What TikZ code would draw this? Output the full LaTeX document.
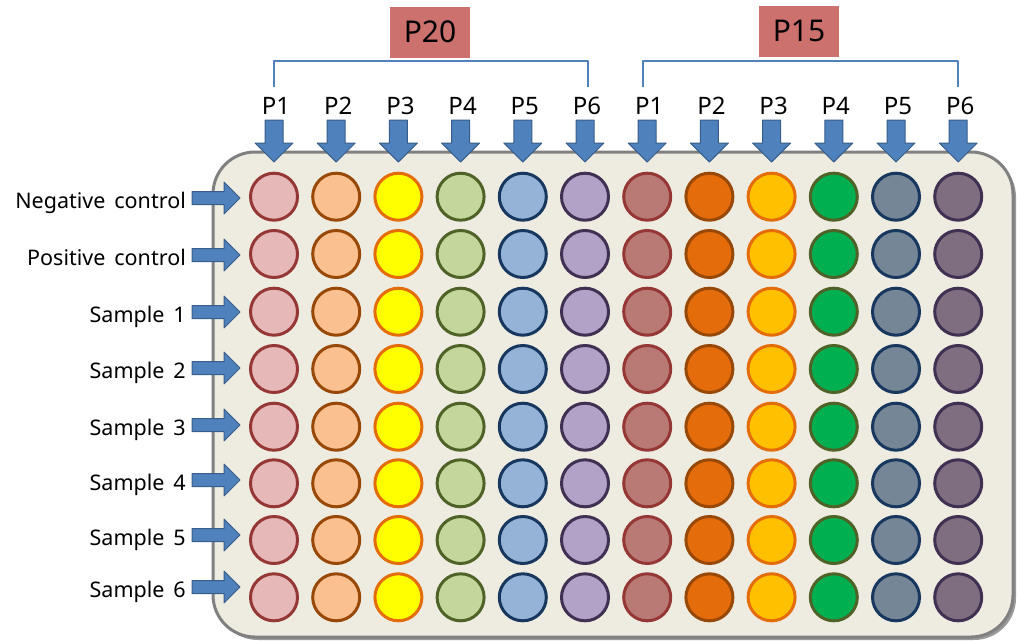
\documentclass[tikz,border=0pt]{standalone}
\usepackage{fontspec}
\setmainfont{Noto Sans}
\definecolor{plate}{RGB}{238,236,225}
\definecolor{plateedge}{RGB}{128,128,128}
\definecolor{arrowblue}{RGB}{79,129,189}
\definecolor{arrowedge}{RGB}{56,93,138}
\definecolor{tagred}{RGB}{205,113,111}
\definecolor{wf1}{RGB}{230,185,184}  \definecolor{wd1}{RGB}{149,55,53}
\definecolor{wf2}{RGB}{250,192,144}  \definecolor{wd2}{RGB}{152,72,7}
\definecolor{wf3}{RGB}{255,255,0}    \definecolor{wd3}{RGB}{228,108,10}
\definecolor{wf4}{RGB}{195,214,155}  \definecolor{wd4}{RGB}{79,98,40}
\definecolor{wf5}{RGB}{149,179,215}  \definecolor{wd5}{RGB}{23,55,94}
\definecolor{wf6}{RGB}{179,162,199}  \definecolor{wd6}{RGB}{64,49,82}
\definecolor{wf7}{RGB}{185,122,118}  \definecolor{wd7}{RGB}{149,55,53}
\definecolor{wf8}{RGB}{228,108,10}   \definecolor{wd8}{RGB}{152,72,7}
\definecolor{wf9}{RGB}{255,192,0}    \definecolor{wd9}{RGB}{228,108,10}
\definecolor{wf10}{RGB}{0,176,80}    \definecolor{wd10}{RGB}{79,98,40}
\definecolor{wf11}{RGB}{117,134,150} \definecolor{wd11}{RGB}{23,55,94}
\definecolor{wf12}{RGB}{126,110,128} \definecolor{wd12}{RGB}{64,49,82}
\begin{document}
\begin{tikzpicture}[x=1pt,y=-1pt,line join=round,
    well/.style={circle,minimum size=47pt,inner sep=0pt,line width=3pt},
    blockarrow/.style={fill=arrowblue,draw=arrowedge,line width=1pt},
    bracket/.style={draw=arrowblue,line width=2.2pt},
    tag/.style={fill=tagred,minimum width=80pt,minimum height=51pt,inner sep=0pt,
        font=\fontsize{30}{36}\selectfont},
    plab/.style={anchor=base,font=\fontsize{24}{28}\selectfont},
    rowlab/.style={anchor=base east,inner sep=0pt,font=\fontsize{21.5}{26}\selectfont}]
    \useasboundingbox (0,0) rectangle (1017,640);
    % plate with its shadow
    \fill[black!40,rounded corners=42pt] (216,155) rectangle (1016,640);
    \draw[fill=plate,draw=plateedge,line width=3pt,rounded corners=42pt]
    (213,152) rectangle (1013,637);
    % brackets and tags
    \path
    (274,87) coordinate (A1) (588,87) coordinate (A2)
    (643,87) coordinate (B1) (958,87) coordinate (B2)
    ;
    \draw[bracket] (A1) |- (A2|-0,61) -- (A2)
    (B1) |- (B2|-0,61) -- (B2)
    ;
    \node[tag] (p20) at (430,32) {P20};
    \node[tag] (p15) at (799,31) {P15};
    % columns: labels and arrows
    \foreach \c/\p in {1/1,2/2,3/3,4/4,5/5,6/6,7/1,8/2,9/3,10/4,11/5,12/6}{
        \pgfmathsetmacro\x{274+62.2*(\c-1)}
        \node[plab] (lab\c) at (\x+2,114) {P\p};
        \draw[blockarrow,shift={(\x,120)}]
        (-9,0) -- (9,0) -- (9,23) -- (19,23) -- (0,42) -- (-19,23) -- (-9,23) -- cycle;
    }
    % rows: labels, arrows and wells
    \foreach \r/\y/\ya/\txt in {1/196.7/198/Negative control,2/254/255/Positive control,
        3/311.7/312/Sample 1,4/369/368/Sample 2,5/426.7/425/Sample 3,
        6/483.3/480/Sample 4,7/540/535/Sample 5,8/597.3/587/Sample 6}{
        \node[rowlab] (row\r) at (186,\ya+10) {\spaceskip=9pt\relax\txt};
        \draw[blockarrow,shift={(192,\ya)}]
        (0,-6.5) -- (32,-6.5) -- (32,-16) -- (48,0) -- (32,16) -- (32,6.5) -- (0,6.5) -- cycle;
        \foreach \c in {1,...,12}
        \node[well,fill=wf\c,draw=wd\c] (w\r-\c) at (274+62.2*\c-62.2,\y) {};
    }
\end{tikzpicture}
\end{document}
